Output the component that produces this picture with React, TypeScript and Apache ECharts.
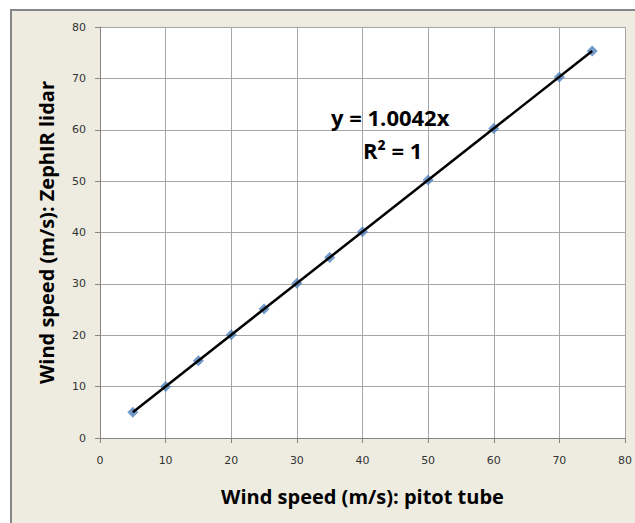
import React, { useEffect, useRef } from "react";
import * as echarts from "echarts";

const pitotSpeeds = [5, 10, 15, 20, 25, 30, 35, 40, 50, 60, 70, 75];
const lidarSpeeds = [5.02, 10.04, 15.06, 20.08, 25.1, 30.13, 35.15, 40.17, 50.21, 60.25, 70.29, 75.32];
const trendSlope = 1.0042;
const axisTicks = [0, 10, 20, 30, 40, 50, 60, 70, 80];
const equationLabel = "y = 1.0042x";
const r2Label = "R² = 1";

export default function App() {
  const ref = useRef<HTMLDivElement>(null);
  useEffect(() => {
    document.body.style.margin = "0";
    const chart = echarts.init(ref.current!, null, { renderer: "svg" });
    const pts = pitotSpeeds.map((x, i) => [x, lidarSpeeds[i]]);
    const xMin = Math.min(...pitotSpeeds);
    const xMax = Math.max(...pitotSpeeds);
    const trend = [
      [xMin, xMin * trendSlope],
      [xMax, xMax * trendSlope],
    ];
    const axisMin = axisTicks[0];
    const axisMax = axisTicks[axisTicks.length - 1];
    const step = axisTicks[1] - axisTicks[0];
    const labelStyle = { fontFamily: "DejaVu Sans", fontSize: 11, color: "#333" };
    const nameStyle = { fontFamily: "Open Sans", fontWeight: "bold" as const, fontSize: 20, color: "#000" };
    const annStyle = { fontFamily: "Open Sans", fontWeight: "bold", fontSize: 22, fill: "#000" };
    chart.setOption({
      animation: false,
      backgroundColor: "#fff",
      graphic: [
        {
          type: "rect",
          z: -10,
          shape: { x: 11, y: 10, width: 700, height: 600 },
          style: { fill: "#EEECE1", stroke: "#868686", lineWidth: 2 },
          silent: true,
        },
        {
          type: "text",
          z: 100,
          left: 331,
          top: 106,
          style: { text: equationLabel, ...annStyle },
        },
        {
          type: "text",
          z: 100,
          left: 363,
          top: 139,
          style: { text: r2Label, ...annStyle },
        },
      ],
      grid: {
        left: 100,
        top: 27,
        right: 8,
        bottom: 85,
        show: true,
        backgroundColor: "#fff",
        borderWidth: 0,
      },
      xAxis: {
        type: "value",
        min: axisMin,
        max: axisMax,
        interval: step,
        name: "Wind speed (m/s): pitot tube",
        nameLocation: "middle",
        nameGap: 48,
        nameTextStyle: nameStyle,
        axisLine: { show: true, lineStyle: { color: "#868686", width: 1 } },
        axisTick: { show: true, length: 5, lineStyle: { color: "#868686" } },
        axisLabel: { ...labelStyle, margin: 17 },
        splitLine: { show: true, lineStyle: { color: "#A6A6A6", width: 1 } },
      },
      yAxis: {
        type: "value",
        min: axisMin,
        max: axisMax,
        interval: step,
        name: "Wind speed (m/s): ZephIR lidar",
        nameLocation: "middle",
        nameGap: 44,
        nameTextStyle: nameStyle,
        axisLine: { show: true, lineStyle: { color: "#868686", width: 1 } },
        axisTick: { show: true, length: 5, lineStyle: { color: "#868686" } },
        axisLabel: { ...labelStyle, margin: 14 },
        splitLine: { show: true, lineStyle: { color: "#A6A6A6", width: 1 } },
      },
      series: [
        {
          type: "line",
          data: trend,
          symbol: "none",
          lineStyle: { color: "#000", width: 2.5 },
          z: 3,
        },
        {
          type: "scatter",
          data: pts,
          symbol: "diamond",
          symbolSize: 11,
          itemStyle: { color: "#4F81BD" },
          z: 2,
        },
      ],
    });
    return () => chart.dispose();
  }, []);
  return <div ref={ref} style={{ width: 635, height: 523 }} />;
}
